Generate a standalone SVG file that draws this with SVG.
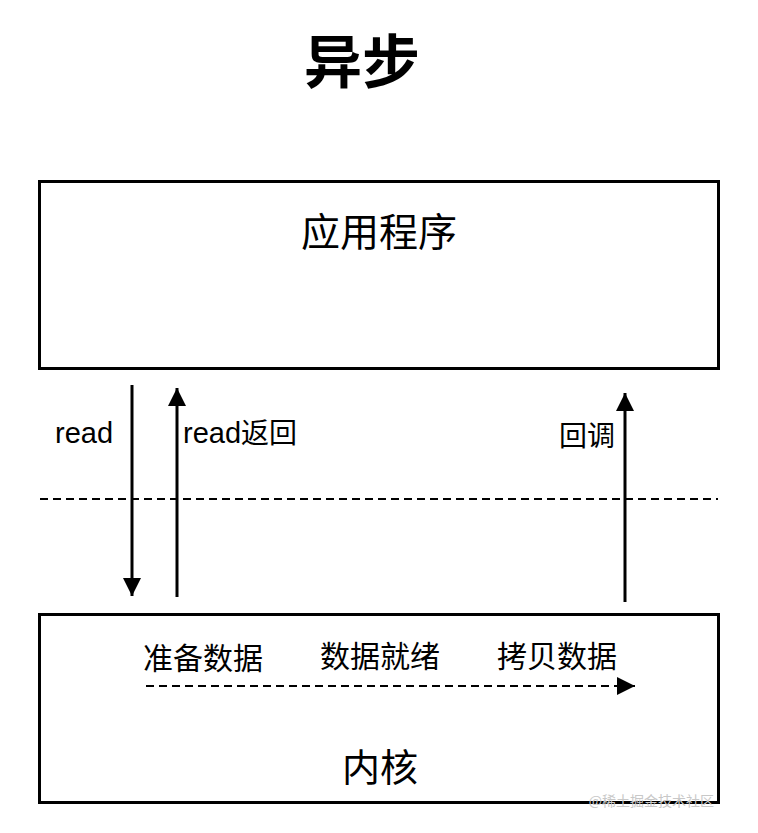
<svg xmlns="http://www.w3.org/2000/svg" width="758" height="833" viewBox="0 0 758 833">
<style>
.box{fill:#fff;stroke:#000;stroke-width:3}
.t{font-family:"Noto Sans CJK SC","Liberation Sans",sans-serif;fill:#000}
.s{font-family:"Liberation Sans","Noto Sans CJK SC",sans-serif;fill:#000}
.ln{stroke:#000;stroke-width:3;fill:none}
.dash{stroke:#000;stroke-width:2;stroke-dasharray:8 5;fill:none}
</style>
<defs>
<marker id="ahb" viewBox="0 0 10 10" refX="10" refY="5" markerWidth="18" markerHeight="18" markerUnits="userSpaceOnUse" orient="auto">
<path d="M0,0 L10,5 L0,10 z" fill="#000"/>
</marker>
</defs>
<rect width="758" height="833" fill="#fff"/>
<text class="t" x="362" y="83" font-size="58" font-weight="bold" text-anchor="middle">异步</text>
<g id="app">
<rect class="box" x="39.5" y="181.5" width="679" height="187"/>
<text class="t" x="379" y="246" font-size="39" text-anchor="middle">应用程序</text>
</g>
<g id="kernel">
<rect class="box" x="39.5" y="614.5" width="679" height="188"/>
<text class="t" x="143" y="669" font-size="30">准备数据</text>
<text class="t" x="320" y="667" font-size="30">数据就绪</text>
<text class="t" x="497" y="667" font-size="30">拷贝数据</text>
<text class="t" x="380" y="781" font-size="38" text-anchor="middle">内核</text>
</g>
<g id="connectors">
<line class="dash" x1="40" y1="499" x2="718" y2="499"/>
<line class="ln" x1="132" y1="385" x2="132" y2="596" marker-end="url(#ahb)"/>
<line class="ln" x1="177" y1="597" x2="177" y2="388" marker-end="url(#ahb)"/>
<line class="ln" x1="625" y1="602" x2="625" y2="393" marker-end="url(#ahb)"/>
<line class="dash" x1="146" y1="686" x2="635" y2="686" marker-end="url(#ahb)"/>
</g>
<text class="s" x="55" y="443" font-size="29">read</text>
<text class="s" x="183" y="443" font-size="29">read<tspan font-family="Noto Sans CJK SC,sans-serif" font-size="28">返回</tspan></text>
<text class="t" x="559" y="446" font-size="28">回调</text>
<text class="t" x="714" y="806" font-size="14" text-anchor="end" style="fill:#c8c8c8">@稀土掘金技术社区</text>
</svg>
